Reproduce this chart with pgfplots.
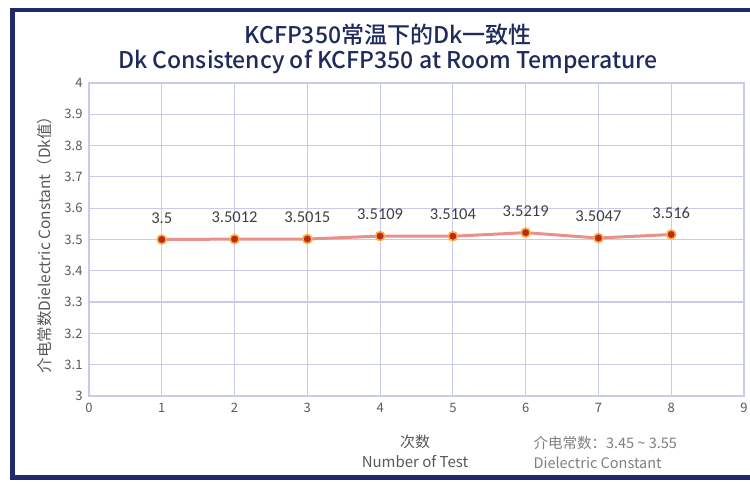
\documentclass[border=0pt]{standalone}
\usepackage{fontspec}
\setmainfont{Noto Sans CJK SC}
\newfontfamily\titlefont{Noto Sans CJK SC Medium}
\newfontfamily\calib{Carlito}
\usepackage{pgfplots}
\pgfplotsset{compat=1.18}
\definecolor{framenavy}{HTML}{1F2A6B}
\definecolor{titlenavy}{HTML}{1F2B5C}
\definecolor{gridlav}{HTML}{C8CBEA}
\definecolor{linesalmon}{HTML}{E8918B}
\definecolor{markred}{HTML}{C0281C}
\definecolor{markring}{HTML}{F5B040}
\definecolor{labgray}{HTML}{595959}
\definecolor{notegray}{HTML}{7F7F7F}

\begin{document}
\begin{tikzpicture}[x=1pt,y=1pt]
\useasboundingbox (0,0) rectangle (750,482);
\fill[white] (0,0) rectangle (750,482);
\draw[framenavy, line width=4.5] (752,472) -- (12.5,472) -- (12.5,4.5) -- (752,4.5);

% titles
\node[titlenavy, font=\titlefont\fontsize{23}{25}\selectfont] at (388,447) {KCFP350常温下的Dk一致性};
\node[titlenavy, font=\titlefont\fontsize{23}{25}\selectfont] at (388,420) {Dk Consistency of KCFP350 at Room Temperature};

% axis titles
\node[labgray, font=\fontsize{15.5}{17}\selectfont, rotate=90] at (45,241) {介电常数Dielectric Constant（Dk值）};
\node[labgray, font=\fontsize{15}{20}\selectfont, align=center] at (415,31) {次数\\Number of Test};
\node[notegray, font=\fontsize{14.5}{20}\selectfont, align=left, anchor=west] at (530,30) {介电常数：3.45 \textasciitilde{} 3.55\\Dielectric Constant};

\begin{axis}[
    at={(89pt,86pt)}, anchor=south west,
    width=655pt, height=313pt, scale only axis,
    xmin=0, xmax=9, ymin=3, ymax=4,
    xtick={0,1,2,3,4,5,6,7,8,9},
    ytick={3,3.1,3.2,3.3,3.4,3.5,3.6,3.7,3.8,3.9,4},
    yticklabels={3,3.1,3.2,3.3,3.4,3.5,3.6,3.7,3.8,3.9,4},
    grid=major,
    major grid style={gridlav, line width=1.2pt},
    axis line style={gridlav, line width=1.2pt},
    tick style={draw=none},
    tick label style={font=\fontsize{13}{15}\selectfont, text=labgray},
    /pgf/number format/assume math mode=true,
    xticklabel style={yshift=-4pt},
    yticklabel style={xshift=-3pt},
    clip=false,
]
\addplot[linesalmon, line width=3pt, mark=*,
    mark size=4.5pt,
    mark options={fill=markred, draw=markring, line width=1.6pt},
    nodes near coords,
    point meta=explicit symbolic,
    every node near coord/.append style={font=\calib\fontsize{16.5}{18}\selectfont, text=black!75, yshift=12pt}
] table[meta=lab] {
x y lab
1 3.5    3.5
2 3.5012 3.5012
3 3.5015 3.5015
4 3.5109 3.5109
5 3.5104 3.5104
6 3.5219 3.5219
7 3.5047 3.5047
8 3.516  3.516
};
\end{axis}
\end{tikzpicture}
\end{document}
